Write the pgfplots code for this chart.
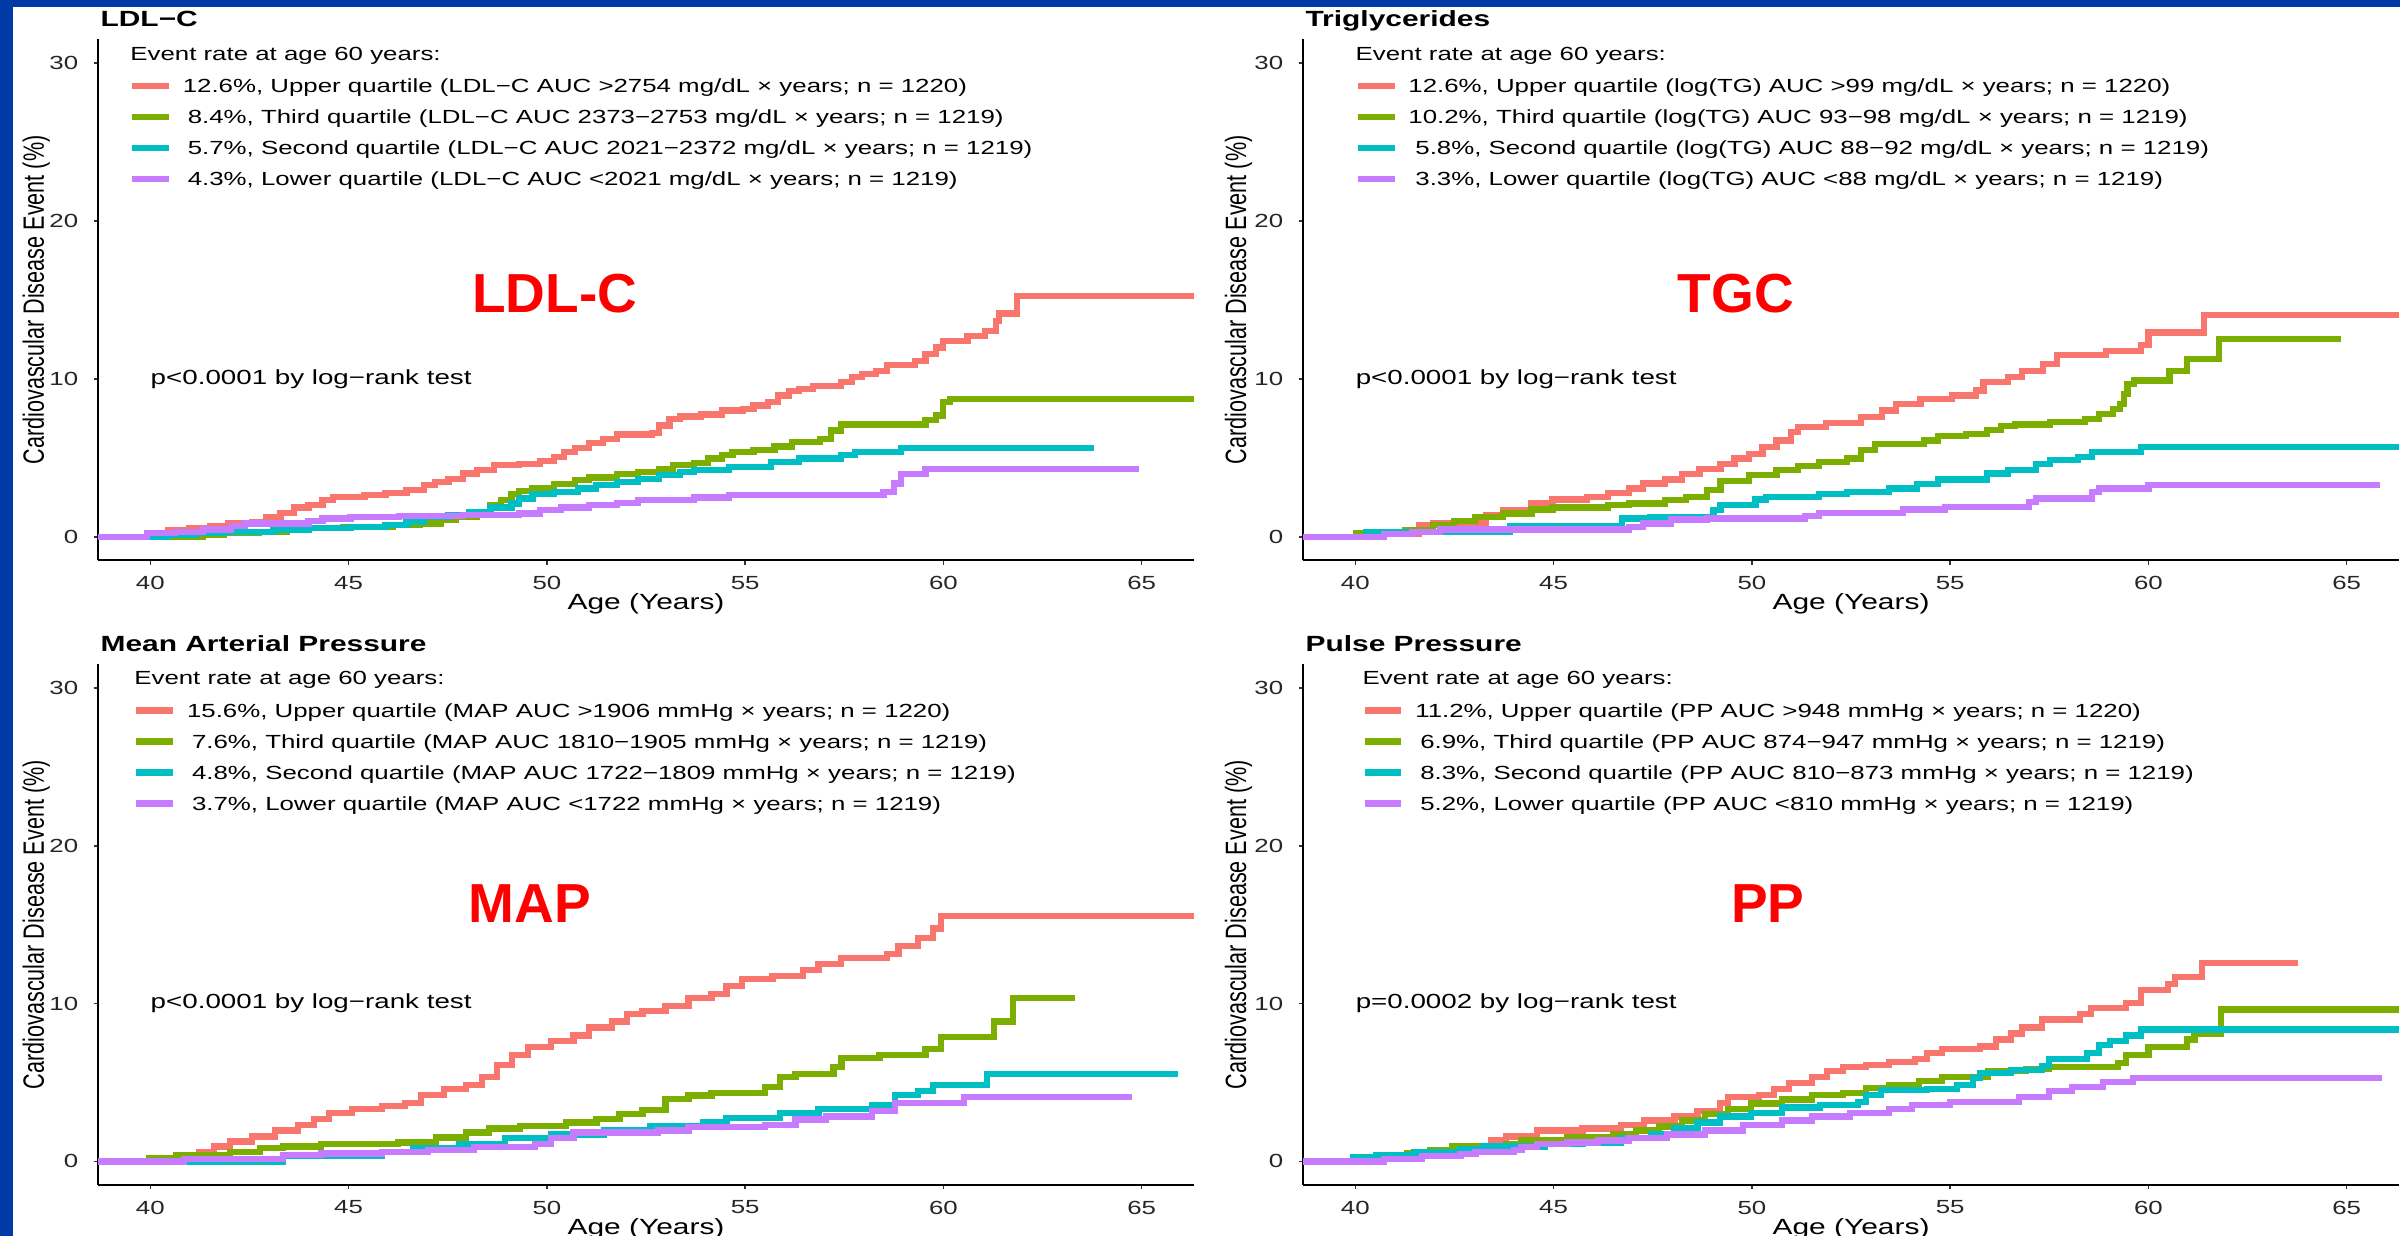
\documentclass[border=0pt]{standalone}
\usepackage{fontspec}
\setmainfont{Liberation Sans}[FakeStretch=1.36]
\setsansfont{Liberation Sans}[FakeStretch=1.36]
\newfontfamily\plainsans{Liberation Sans}
\usepackage{graphicx}
\usepackage{pgfplots}
\pgfplotsset{compat=1.18}
\definecolor{kmred}{HTML}{F8766D}
\definecolor{kmgreen}{HTML}{7CAE00}
\definecolor{kmcyan}{HTML}{00BFC4}
\definecolor{kmpurple}{HTML}{C77CFF}
\definecolor{frameblue}{RGB}{0,58,166}
\newcommand{\ticksize}{\fontsize{9.5pt}{11pt}\selectfont}
\newcommand{\psize}{\fontsize{10.2pt}{12pt}\selectfont}
\newcommand{\labsize}{\fontsize{11pt}{13pt}\selectfont}
\newcommand{\ttl}{\fontsize{11pt}{13pt}\selectfont\bfseries}
\newcommand{\bigred}{\plainsans\bfseries\fontsize{27.5pt}{30pt}\selectfont}
\pgfplotsset{
  kmaxis/.style={
    scale only axis, width=548pt, height=260.45pt,
    anchor=south west,
    xmin=38.68, xmax=66.32, ymin=-1.5, ymax=31.5,
    axis lines*=left,
    axis line style={line width=1pt, black},
    xtick={40,45,50,55,60,65}, ytick={0,10,20,30},
    minor tick num=0,
    tick align=outside, major tick length=2.2pt,
    tick style={line width=0.8pt, black!80},
    /pgf/number format/assume math mode=true,
    every tick label/.append style={font=\ticksize, text=black!85, inner sep=0pt},
    xticklabel style={anchor=north, yshift=-5.5pt},
    yticklabel style={anchor=east, xshift=-7.5pt},
    xlabel={Age (Years)},
    xlabel style={at={(axis description cs:0.5,-0.0952)}, anchor=base, font=\labsize, inner sep=0pt},
    ylabel={\scalebox{1}[1.36]{\plainsans\fontsize{10.8pt}{13pt}\selectfont Cardiovascular Disease Event (\%)}},
    ylabel style={at={(axis description cs:-0.0493,0.5)}, anchor=base, inner sep=0pt},
    clip mode=individual,
    every axis plot/.append style={const plot, line width=3.1pt},
    legend cell align=left,
    legend style={draw=none, fill=none, anchor=north west, inner sep=0pt, outer sep=0pt,
      row sep=6.3pt, column sep=0pt, font=\ticksize,
      nodes={inner sep=0pt, text height=8pt, text depth=1.2pt}},
    legend image code/.code={\draw[#1, line width=3.4pt] (0pt,0pt) -- (18.4pt,0pt); \path (23.8pt,0pt);},
  }
}
\begin{document}
\begin{tikzpicture}
\useasboundingbox (0,0) rectangle (1200pt,618pt);
\clip (0,0) rectangle (1200pt,618pt);
\fill[frameblue] (0,0) rectangle (1200pt,618pt);
\fill[white] (6.35pt,0) rectangle (1200pt,614.65pt);

% ---------------- LDL-C ----------------
\begin{axis}[kmaxis, at={(49pt,337.8pt)}, legend style={at={(0.0280,0.9284)}}]
\addplot[kmred] coordinates {(38.68,0) (39.92,0.21) (40.45,0.42) (40.98,0.53) (41.51,0.67) (41.95,0.84) (42.57,0.95) (42.92,1.22) (43.28,1.52) (43.63,1.85) (43.99,2.0) (44.34,2.31) (44.60,2.53) (45.40,2.63) (45.93,2.78) (46.46,2.95) (46.90,3.26) (47.17,3.47) (47.52,3.68) (47.88,4.0) (48.23,4.21) (48.67,4.52) (49.29,4.59) (49.82,4.80) (50.17,5.05) (50.44,5.37) (50.70,5.64) (51.06,5.93) (51.41,6.21) (51.77,6.48) (52.65,6.57) (52.83,7.05) (53.09,7.47) (53.36,7.62) (53.89,7.74) (54.42,8.0) (54.95,8.10) (55.21,8.31) (55.57,8.52) (55.83,8.94) (56.10,9.22) (56.36,9.36) (56.72,9.57) (57.42,9.79) (57.69,10.10) (57.95,10.31) (58.31,10.48) (58.57,10.90) (59.28,11.11) (59.55,11.57) (59.81,11.99) (59.99,12.42) (60.61,12.73) (61.05,13.05) (61.32,13.68) (61.40,14.14) (61.85,15.26) (66.32,15.26)};
\addlegendentry{12.6\%, Upper quartile (LDL−C AUC >2754 mg/dL × years; n = 1220)}
\addplot[kmgreen] coordinates {(38.68,0) (41.33,0.1) (41.86,0.21) (42.75,0.32) (43.45,0.42) (43.99,0.53) (44.87,0.63) (46.11,0.74) (46.81,0.84) (47.34,1.05) (47.70,1.26) (48.23,1.58) (48.58,2.0) (48.85,2.31) (49.11,2.69) (49.29,2.90) (49.64,3.05) (50.17,3.32) (50.70,3.58) (51.06,3.75) (51.77,3.96) (52.30,4.10) (52.83,4.31) (53.18,4.52) (53.71,4.67) (54.06,4.95) (54.42,5.16) (54.68,5.37) (55.21,5.47) (55.74,5.72) (56.19,6.0) (56.89,6.21) (57.16,6.73) (57.42,7.11) (59.55,7.37) (59.81,7.68) (59.99,8.52) (60.17,8.73) (66.32,8.73)};
\addlegendentry{\hspace{2.5pt}8.4\%, Third quartile (LDL−C AUC 2373−2753 mg/dL × years; n = 1219)}
\addplot[kmcyan] coordinates {(38.68,0) (40.45,0.1) (41.16,0.21) (41.86,0.32) (43.10,0.42) (43.99,0.53) (45.05,0.63) (45.93,0.74) (46.46,0.95) (46.90,1.26) (47.52,1.37) (48.05,1.58) (48.58,1.85) (49.11,2.10) (49.29,2.42) (49.64,2.69) (50.17,2.84) (50.79,3.05) (51.24,3.26) (51.77,3.47) (52.30,3.68) (52.83,3.89) (53.36,4.10) (53.71,4.21) (54.60,4.42) (55.66,4.73) (56.36,4.95) (57.42,5.16) (57.78,5.37) (58.93,5.62) (63.79,5.62)};
\addlegendentry{\hspace{2.5pt}5.7\%, Second quartile (LDL−C AUC 2021−2372 mg/dL × years; n = 1219)}
\addplot[kmpurple] coordinates {(38.68,0) (39.92,0.21) (40.63,0.32) (41.33,0.46) (42.04,0.67) (42.39,0.84) (43.99,1.01) (44.34,1.16) (45.05,1.26) (46.28,1.30) (47.88,1.37) (49.29,1.47) (49.82,1.68) (50.35,1.85) (51.06,2.0) (51.77,2.15) (52.30,2.31) (53.71,2.48) (54.60,2.63) (58.49,2.84) (58.75,3.37) (58.93,3.96) (59.55,4.29) (64.94,4.29)};
\addlegendentry{\hspace{2.5pt}4.3\%, Lower quartile (LDL−C AUC <2021 mg/dL × years; n = 1219)}
\node[anchor=base west, inner sep=0pt, font=\ttl] at (axis description cs:0.002,1.0246) {LDL−C};
\node[anchor=base west, inner sep=0pt, font=\ticksize] at (axis description cs:0.0292,0.9606) {Event rate at age 60 years:};
\node[anchor=west, inner sep=0pt, font=\psize] at (axis cs:40,10) {p<0.0001 by log−rank test};
\node[inner sep=0pt, font=\bigred, text=red] at (axis cs:50.2,15.4) {LDL-C};
\end{axis}

% ---------------- Triglycerides ----------------
\begin{axis}[kmaxis, at={(651.5pt,337.8pt)}, legend style={at={(0.0468,0.9284)}},
  ylabel style={at={(axis description cs:-0.052,0.5)}}]
\addplot[kmred] coordinates {(38.68,0) (40.01,0.17) (41.61,0.74) (41.96,0.88) (43.29,1.37) (43.73,1.68) (44.44,2.10) (44.97,2.36) (45.85,2.53) (46.38,2.78) (46.91,3.05) (47.26,3.37) (47.80,3.62) (48.24,3.96) (48.68,4.31) (49.21,4.63) (49.56,4.95) (49.92,5.26) (50.27,5.68) (50.62,6.10) (50.98,6.63) (51.16,6.94) (51.86,7.20) (52.75,7.58) (53.28,7.99) (53.63,8.42) (54.25,8.73) (55.05,8.94) (55.66,9.26) (55.84,9.79) (56.46,10.10) (56.81,10.52) (57.34,10.94) (57.70,11.53) (58.94,11.78) (59.82,12.16) (60.00,12.94) (61.41,14.04) (66.32,14.04)};
\addlegendentry{12.6\%, Upper quartile (log(TG) AUC >99 mg/dL × years; n = 1220)}
\addplot[kmgreen] coordinates {(38.68,0) (40.01,0.21) (41.25,0.42) (41.96,0.74) (42.49,1.01) (43.02,1.26) (43.73,1.47) (44.44,1.73) (44.97,1.85) (46.38,2.0) (46.91,2.10) (47.80,2.31) (48.33,2.53) (48.86,2.95) (49.21,3.54) (49.92,3.89) (50.62,4.21) (51.16,4.46) (51.69,4.73) (52.39,4.95) (52.75,5.47) (53.10,5.85) (54.34,6.10) (54.69,6.36) (55.40,6.52) (55.93,6.78) (56.28,6.99) (56.64,7.11) (57.52,7.26) (58.41,7.47) (58.76,7.79) (59.11,8.10) (59.29,8.42) (59.38,9.05) (59.47,9.68) (59.64,9.89) (60.53,10.52) (60.97,11.26) (61.77,12.52) (64.86,12.52)};
\addlegendentry{10.2\%, Third quartile (log(TG) AUC 93−98 mg/dL × years; n = 1219)}
\addplot[kmcyan] coordinates {(38.68,0) (40.28,0.32) (43.91,0.67) (46.73,1.16) (47.44,1.26) (49.03,1.68) (49.21,2.0) (50.09,2.36) (50.36,2.53) (51.69,2.69) (52.39,2.84) (53.45,3.05) (54.16,3.32) (54.69,3.62) (55.93,4.0) (56.46,4.25) (57.17,4.59) (57.52,4.84) (58.23,5.05) (58.58,5.37) (59.82,5.68) (66.32,5.68)};
\addlegendentry{\hspace{3.5pt}5.8\%, Second quartile (log(TG) AUC 88−92 mg/dL × years; n = 1219)}
\addplot[kmpurple] coordinates {(38.68,0) (40.72,0.17) (41.43,0.32) (42.14,0.46) (46.91,0.63) (47.26,0.84) (47.97,1.09) (48.86,1.16) (51.33,1.30) (51.69,1.52) (53.81,1.73) (54.87,1.89) (56.99,2.21) (57.17,2.42) (58.58,2.84) (58.76,3.05) (60.0,3.30) (65.83,3.30)};
\addlegendentry{\hspace{3.5pt}3.3\%, Lower quartile (log(TG) AUC <88 mg/dL × years; n = 1219)}
\node[anchor=base west, inner sep=0pt, font=\ttl] at (axis description cs:0.002,1.0246) {Triglycerides};
\node[anchor=base west, inner sep=0pt, font=\ticksize] at (axis description cs:0.0477,0.9606) {Event rate at age 60 years:};
\node[anchor=west, inner sep=0pt, font=\psize] at (axis cs:40,10) {p<0.0001 by log−rank test};
\node[inner sep=0pt, font=\bigred, text=red] at (axis cs:49.6,15.4) {TGC};
\end{axis}

% ---------------- Mean Arterial Pressure ----------------
\begin{axis}[kmaxis, at={(49pt,25.45pt)}, legend style={at={(0.0319,0.9284)}}]
\addplot[kmred] coordinates {(38.68,0) (40.84,0.2) (41.22,0.58) (41.61,0.95) (42.0,1.26) (42.57,1.58) (43.15,1.96) (43.73,2.33) (44.12,2.71) (44.50,3.09) (45.08,3.34) (45.85,3.51) (46.43,3.72) (46.82,4.22) (47.40,4.59) (47.97,4.85) (48.36,5.35) (48.75,6.10) (49.13,6.73) (49.52,7.23) (50.10,7.61) (50.67,7.98) (51.06,8.49) (51.64,8.86) (52.02,9.36) (52.41,9.54) (52.99,9.87) (53.57,10.37) (54.15,10.62) (54.53,11.12) (54.92,11.55) (55.69,11.75) (56.46,12.13) (56.85,12.50) (57.42,12.88) (58.58,13.13) (58.87,13.63) (59.35,14.13) (59.74,14.76) (59.93,15.57) (66.32,15.57)};
\addlegendentry{15.6\%, Upper quartile (MAP AUC >1906 mmHg × years; n = 1220)}
\addplot[kmgreen] coordinates {(38.68,0) (39.97,0.2) (40.65,0.4) (42.0,0.58) (42.77,0.83) (43.35,0.95) (44.31,1.08) (46.24,1.2) (47.20,1.51) (47.97,1.83) (48.55,2.08) (49.32,2.26) (50.48,2.46) (51.25,2.71) (51.83,3.01) (52.41,3.26) (52.99,3.97) (53.57,4.17) (54.15,4.34) (55.50,4.72) (55.88,5.35) (56.27,5.52) (57.23,5.98) (57.43,6.53) (58.39,6.73) (59.55,7.11) (59.93,7.86) (61.28,8.86) (61.76,10.37) (63.31,10.37)};
\addlegendentry{\hspace{2.5pt}7.6\%, Third quartile (MAP AUC 1810−1905 mmHg × years; n = 1219)}
\addplot[kmcyan] coordinates {(38.68,0) (43.35,0.33) (45.85,0.58) (46.62,0.83) (47.78,1.08) (48.94,1.46) (50.10,1.71) (51.45,1.96) (52.60,2.21) (53.95,2.51) (54.53,2.76) (55.88,3.09) (56.85,3.34) (58.20,3.59) (58.77,4.22) (59.35,4.47) (59.74,4.85) (61.09,5.52) (65.91,5.52)};
\addlegendentry{\hspace{2.5pt}4.8\%, Second quartile (MAP AUC 1722−1809 mmHg × years; n = 1219)}
\addplot[kmpurple] coordinates {(38.68,0) (40.84,0.15) (43.35,0.4) (44.31,0.5) (45.85,0.58) (47.01,0.7) (48.17,0.9) (49.71,1.08) (50.10,1.46) (50.67,1.83) (52.80,1.96) (53.57,2.16) (55.50,2.33) (56.27,2.66) (57.04,2.84) (58.20,3.21) (58.77,3.72) (60.51,4.09) (64.75,4.09)};
\addlegendentry{\hspace{2.5pt}3.7\%, Lower quartile (MAP AUC <1722 mmHg × years; n = 1219)}
\node[anchor=base west, inner sep=0pt, font=\ttl] at (axis description cs:0.002,1.0246) {Mean Arterial Pressure};
\node[anchor=base west, inner sep=0pt, font=\ticksize] at (axis description cs:0.0328,0.9606) {Event rate at age 60 years:};
\node[anchor=west, inner sep=0pt, font=\psize] at (axis cs:40,10) {p<0.0001 by log−rank test};
\node[inner sep=0pt, font=\bigred, text=red] at (axis cs:49.57,16.35) {MAP};
\end{axis}

% ---------------- Pulse Pressure ----------------
\begin{axis}[kmaxis, at={(651.5pt,25.45pt)}, legend style={at={(0.0531,0.9284)}},
  ylabel style={at={(axis description cs:-0.052,0.5)}}]
\addplot[kmred] coordinates {(38.68,0) (39.95,0.2) (41.49,0.45) (42.45,0.7) (43.03,1.0) (43.42,1.33) (43.80,1.58) (44.58,1.96) (45.73,2.08) (46.70,2.33) (47.28,2.59) (48.05,2.84) (48.63,3.21) (49.20,3.72) (49.40,4.09) (50.17,4.22) (50.55,4.59) (50.94,4.97) (51.52,5.35) (51.90,5.72) (52.29,5.98) (52.87,6.10) (53.45,6.28) (54.12,6.48) (54.41,6.85) (54.80,7.11) (55.76,7.28) (56.15,7.73) (56.53,8.11) (56.82,8.49) (57.31,8.99) (58.27,9.36) (58.56,9.74) (59.43,10.04) (59.81,10.87) (60.49,11.25) (60.68,11.70) (61.36,12.55) (63.77,12.55)};
\addlegendentry{11.2\%, Upper quartile (PP AUC >948 mmHg × years; n = 1220)}
\addplot[kmgreen] coordinates {(38.68,0) (40.33,0.2) (41.30,0.5) (41.88,0.7) (42.45,0.95) (43.80,1.08) (44.19,1.33) (45.35,1.51) (46.50,1.71) (47.08,1.96) (47.66,2.21) (48.24,2.59) (48.82,3.01) (49.40,3.34) (49.98,3.67) (50.75,3.92) (51.52,4.22) (52.29,4.34) (52.87,4.67) (53.45,4.85) (54.22,5.10) (54.80,5.35) (55.95,5.72) (56.92,5.85) (57.50,5.98) (59.23,6.23) (59.43,6.73) (60.0,7.23) (60.97,7.73) (61.16,8.11) (61.84,9.62) (66.32,9.62)};
\addlegendentry{\hspace{2.5pt}6.9\%, Third quartile (PP AUC 874−947 mmHg × years; n = 1219)}
\addplot[kmcyan] coordinates {(38.68,0) (39.95,0.25) (40.53,0.4) (41.49,0.58) (42.65,0.75) (43.23,0.95) (44.77,1.08) (45.73,1.20) (46.70,1.46) (47.47,1.71) (48.05,2.08) (48.63,2.46) (49.20,2.84) (49.98,3.09) (50.75,3.41) (51.71,3.59) (52.68,3.77) (52.87,4.22) (53.26,4.52) (54.41,4.59) (55.18,4.85) (55.57,5.27) (55.76,5.60) (56.53,5.77) (57.31,6.03) (57.50,6.48) (58.46,6.85) (58.75,7.36) (59.04,7.61) (59.43,7.98) (59.81,8.36) (66.32,8.36)};
\addlegendentry{\hspace{2.5pt}8.3\%, Second quartile (PP AUC 810−873 mmHg × years; n = 1219)}
\addplot[kmpurple] coordinates {(38.68,0) (40.72,0.15) (41.68,0.33) (42.65,0.45) (43.03,0.58) (44.0,0.7) (44.19,0.9) (44.58,1.08) (45.35,1.2) (46.12,1.33) (46.89,1.46) (47.85,1.71) (48.82,1.96) (49.78,2.33) (50.75,2.59) (51.52,2.84) (52.48,3.09) (53.45,3.34) (54.03,3.59) (54.99,3.77) (56.73,4.09) (57.50,4.47) (58.08,4.72) (58.85,5.02) (59.62,5.27) (65.89,5.27)};
\addlegendentry{\hspace{2.5pt}5.2\%, Lower quartile (PP AUC <810 mmHg × years; n = 1219)}
\node[anchor=base west, inner sep=0pt, font=\ttl] at (axis description cs:0.002,1.0246) {Pulse Pressure};
\node[anchor=base west, inner sep=0pt, font=\ticksize] at (axis description cs:0.0540,0.9606) {Event rate at age 60 years:};
\node[anchor=west, inner sep=0pt, font=\psize] at (axis cs:40,10) {p=0.0002 by log−rank test};
\node[inner sep=0pt, font=\bigred, text=red] at (axis cs:50.4,16.35) {PP};
\end{axis}
\end{tikzpicture}
\end{document}
